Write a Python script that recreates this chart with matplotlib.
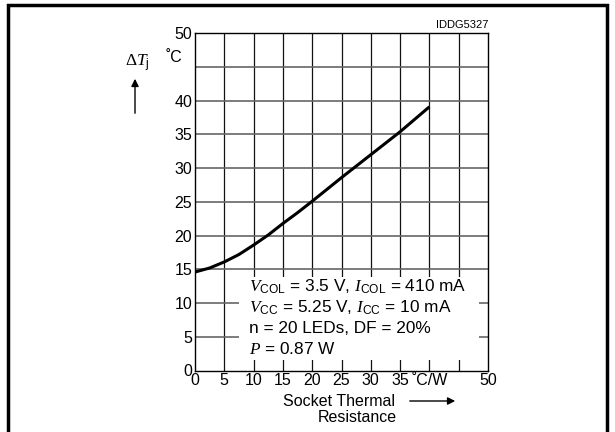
import numpy as np
import matplotlib
matplotlib.use('Agg')
import matplotlib.pyplot as plt
from matplotlib.patches import Rectangle

plt.rcParams['font.family'] = ['Liberation Sans', 'DejaVu Sans']
plt.rcParams['mathtext.fontset'] = 'custom'
plt.rcParams['mathtext.rm'] = 'Liberation Sans'
plt.rcParams['mathtext.it'] = 'Liberation Serif:italic'
plt.rcParams['mathtext.sf'] = 'Liberation Serif'
plt.rcParams['mathtext.bf'] = 'Liberation Sans:bold'

# curve
r_th = [0, 2.5, 5, 7.5, 10, 12.5, 15, 17.5, 20, 25, 30, 35, 40]
dt_j = [14.6, 15.2, 16.1, 17.2, 18.6, 20.1, 21.8, 23.4, 25.1, 28.6, 32.0, 35.4, 39.1]

x_ticks = [0, 5, 10, 15, 20, 25, 30, 35, 40, 50]
x_labels = ['0', '5', '10', '15', '20', '25', '30', '35', '\u02daC/W', '50']
y_ticks = [0, 5, 10, 15, 20, 25, 30, 35, 40, 50]
y_labels = ['0', '5', '10', '15', '20', '25', '30', '35', '40', '50']
grid_steps = np.arange(5, 50, 5)

notes = [r'$V_{\rm COL}$ = 3.5 V, $I_{\rm COL}$ = 410 mA',
         r'$V_{\rm CC}$ = 5.25 V, $I_{\rm CC}$ = 10 mA',
         'n = 20 LEDs, DF = 20%',
         r'$P$ = 0.87 W']

W, H = 615, 432
fs = 11.5
fig = plt.figure(figsize=(W / 100, H / 100), dpi=100)
ax = fig.add_axes([195 / W, 1 - 370.5 / H, (488 - 195) / W, (370.5 - 33.3) / H])

# grid: vertical black, horizontal grey
ax.vlines(grid_steps, 0, 50, colors='#111111', lw=0.9, zorder=1)
ax.hlines(grid_steps, 0, 50, colors='#666666', lw=1.2, zorder=1)

# white panel behind the notes
ax.add_patch(Rectangle((7.5, 1.5), 41, 12.4, facecolor='white', edgecolor='none', zorder=2))

ax.plot(r_th, dt_j, color='black', lw=2.2, zorder=3, solid_capstyle='butt')

ax.set_xlim(0, 50)
ax.set_ylim(0, 50)
ax.set_xticks(x_ticks)
ax.set_xticklabels(x_labels, fontsize=fs)
ax.set_yticks(y_ticks)
ax.set_yticklabels(y_labels, fontsize=fs)
ax.tick_params(length=0, pad=2)
for s in ax.spines.values():
    s.set_linewidth(1.0)
    s.set_color('black')

for i, t in enumerate(notes):
    ax.text(9.2, 12.4 - 3.05 * i, t, fontsize=12.4, va='center', ha='left', zorder=4)

# y unit, axis label and arrow
fig.text(182 / W, 1 - 57 / H, '\u02daC', fontsize=fs, ha='right', va='center')
fig.text(137 / W, 1 - 63 / H, r'$\mathsf{\Delta}T_{\rm j}$', fontsize=12.5, ha='center', va='center')
ax.annotate('', xy=(135 / W, 1 - 76 / H), xytext=(135 / W, 1 - 116 / H),
            xycoords='figure fraction', textcoords='figure fraction',
            arrowprops=dict(arrowstyle='-|>', color='black', lw=1.0, mutation_scale=11))

# x axis label with arrow
fig.text(339 / W, 1 - 402 / H, 'Socket Thermal', fontsize=fs, ha='center', va='center')
fig.text(357 / W, 1 - 417 / H, 'Resistance', fontsize=fs, ha='center', va='center')
ax.annotate('', xy=(458 / W, 1 - 401 / H), xytext=(407 / W, 1 - 401 / H),
            xycoords='figure fraction', textcoords='figure fraction',
            arrowprops=dict(arrowstyle='-|>', color='black', lw=1.0, mutation_scale=11))

fig.text(488 / W, 1 - 25 / H, 'IDDG5327', fontsize=8, ha='right', va='center')

# frame around the whole picture
fig.add_artist(Rectangle((8 / W, -0.05), (607 - 8) / W, 1 - 5 / H + 0.05,
                         transform=fig.transFigure, fill=False, edgecolor='black', lw=2.5))

fig.savefig('out.png', dpi=100)
